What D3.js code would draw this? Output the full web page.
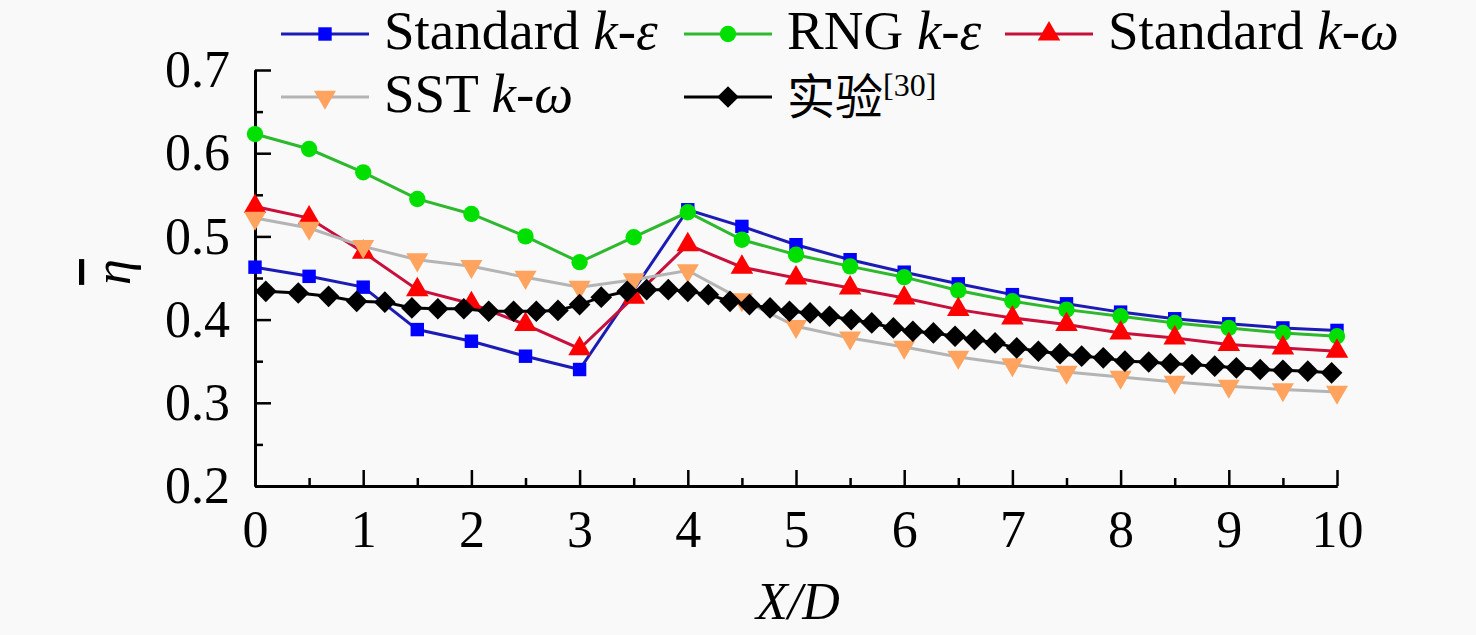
<!DOCTYPE html>
<html>
<head>
<meta charset="utf-8">
<script src="https://cdn.jsdelivr.net/npm/d3@7"></script>
<style>
  body { margin: 0; background: #f9f9f9; }
  svg { display: block; }
  text { font-family: "Liberation Serif", "Times New Roman", serif; fill: #000; }
</style>
</head>
<body>
<div id="chart"></div>
<script>
// x positions of the simulated points (X/D)
const xSim = [0, 0.5, 1, 1.5, 2, 2.5, 3, 3.5, 4, 4.5, 5, 5.5, 6, 6.5, 7, 7.5, 8, 8.5, 9, 9.5, 10];

// simulated film cooling effectiveness (null = no point)
const stdKe = [0.463, 0.452, 0.439, 0.388, 0.374, 0.356, 0.340, null, 0.532, 0.512, 0.490, 0.472, 0.457, 0.443, 0.430, 0.419, 0.409, 0.401, 0.395, 0.390, 0.387];
const rngKe = [0.623, 0.605, 0.577, 0.545, 0.527, 0.500, 0.469, 0.499, 0.529, 0.496, 0.478, 0.464, 0.451, 0.435, 0.422, 0.412, 0.404, 0.396, 0.390, 0.384, 0.380];
const stdKw = [0.536, 0.522, 0.481, 0.436, 0.419, 0.394, 0.365, 0.427, 0.490, 0.463, 0.450, 0.438, 0.426, 0.412, 0.402, 0.394, 0.384, 0.378, 0.370, 0.366, 0.362];
const sstKw = [0.522, 0.510, 0.488, 0.472, 0.464, 0.451, 0.439, 0.448, 0.459, 0.424, 0.392, 0.378, 0.367, 0.355, 0.346, 0.337, 0.331, 0.325, 0.320, 0.316, 0.313];

// experiment [30]
const expX = [0.10, 0.40, 0.68, 0.94, 1.20, 1.45, 1.69, 1.93, 2.16, 2.39, 2.60, 2.80, 3.00, 3.20, 3.44, 3.62,
  3.82, 4.00, 4.19, 4.39, 4.57, 4.76, 4.94, 5.13, 5.31, 5.51, 5.70, 5.90, 6.08, 6.27, 6.47, 6.65,
  6.84, 7.04, 7.24, 7.44, 7.64, 7.84, 8.04, 8.26, 8.46, 8.66, 8.87, 9.07, 9.29, 9.50, 9.73, 9.95];
const expY = [0.434, 0.432, 0.428, 0.422, 0.421, 0.414, 0.413, 0.413, 0.410, 0.410, 0.410, 0.411, 0.418, 0.427, 0.434, 0.436,
  0.436, 0.434, 0.430, 0.422, 0.418, 0.414, 0.410, 0.408, 0.404, 0.400, 0.396, 0.390, 0.386, 0.384, 0.380, 0.376,
  0.372, 0.366, 0.362, 0.359, 0.356, 0.354, 0.350, 0.349, 0.347, 0.346, 0.344, 0.342, 0.340, 0.339, 0.338, 0.336];

const xTicks = [0, 1, 2, 3, 4, 5, 6, 7, 8, 9, 10];
const yTicks = [0.2, 0.3, 0.4, 0.5, 0.6, 0.7];

const width = 1476, height = 635;
const margin = { top: 70, right: 139, bottom: 149, left: 255 };
const innerW = width - margin.left - margin.right;
const innerH = height - margin.top - margin.bottom;

const svg = d3.select('#chart').append('svg')
  .attr('width', width)
  .attr('height', height);

const g = svg.append('g')
  .attr('transform', `translate(${margin.left},${margin.top})`);

const x = d3.scaleLinear().domain([0, 10]).range([0, innerW]);
const y = d3.scaleLinear().domain([0.2, 0.7]).range([innerH, 0]);

// minor ticks
g.append('g')
  .attr('class', 'x-minor')
  .attr('transform', `translate(0,${innerH})`)
  .call(d3.axisBottom(x).tickValues(d3.range(0.5, 10, 1)).tickSize(-8).tickSizeOuter(0).tickFormat(''));
g.append('g')
  .attr('class', 'y-minor')
  .call(d3.axisLeft(y).tickValues([0.25, 0.35, 0.45, 0.55, 0.65]).tickSize(-8).tickSizeOuter(0).tickFormat(''));

// major axes
g.append('g')
  .attr('class', 'x-axis')
  .attr('transform', `translate(0,${innerH})`)
  .call(d3.axisBottom(x).tickValues(xTicks).tickSize(-16).tickSizeOuter(0).tickPadding(24).tickFormat(d3.format('d')));
g.append('g')
  .attr('class', 'y-axis')
  .call(d3.axisLeft(y).tickValues(yTicks).tickSize(-16).tickSizeOuter(0).tickPadding(25).tickFormat(d3.format('.1f')));

g.selectAll('.domain').attr('stroke', '#000').attr('stroke-width', 3);
g.selectAll('.tick line').attr('stroke', '#000').attr('stroke-width', 2.5);
g.selectAll('.tick text').style('font-size', '52px').style('font-family', '"Liberation Serif", serif');

// axis titles
svg.append('text')
  .attr('x', 798)
  .attr('y', 619)
  .attr('text-anchor', 'middle')
  .style('font-size', '52px')
  .style('font-style', 'italic')
  .text('X/D');

svg.append('text')
  .attr('transform', 'translate(130,272) rotate(-90)')
  .attr('text-anchor', 'middle')
  .style('font-size', '52px')
  .style('font-style', 'italic')
  .style('text-decoration', 'overline')
  .text('η');

// series
const series = [
  { name: 'stdKe', values: stdKe, xs: xSim, line: '#1c1cb4', fill: '#0000ff', shape: 'square', size: 180 },
  { name: 'rngKe', values: rngKe, xs: xSim, line: '#2eb82e', fill: '#00e000', shape: 'circle', size: 210 },
  { name: 'stdKw', values: stdKw, xs: xSim, line: '#c8103c', fill: '#ff0000', shape: 'triangle', size: 220 },
  { name: 'sstKw', values: sstKw, xs: xSim, line: '#b4b4b4', fill: '#ffa35e', shape: 'triangleDown', size: 210 },
  { name: 'exp', values: expY, xs: expX, line: '#000000', fill: '#000000', shape: 'diamond', size: 235 }
];

const shapeType = {
  square: d3.symbolSquare,
  circle: d3.symbolCircle,
  triangle: d3.symbolTriangle,
  triangleDown: d3.symbolTriangle,
  diamond: d3.symbolSquare
};
const shapeRotate = { square: 0, circle: 0, triangle: 0, triangleDown: 180, diamond: 45 };

const line = d3.line().x(d => x(d.x)).y(d => y(d.y));

series.forEach(s => {
  const pts = s.values.map((v, i) => ({ x: s.xs[i], y: v })).filter(d => d.y !== null);
  const sg = g.append('g').attr('class', 'series-' + s.name);
  sg.append('path')
    .datum(pts)
    .attr('fill', 'none')
    .attr('stroke', s.line)
    .attr('stroke-width', 3)
    .attr('d', line);
  sg.selectAll('path.marker')
    .data(pts)
    .join('path')
    .attr('class', 'marker')
    .attr('transform', d => `translate(${x(d.x)},${y(d.y)}) rotate(${shapeRotate[s.shape]})`)
    .attr('d', d3.symbol().type(shapeType[s.shape]).size(s.size))
    .attr('fill', s.fill);
});

// legend
const legendItems = [
  { s: series[0], x0: 281, y0: 34, label: ['Standard ', 'k', '-ε'] },
  { s: series[1], x0: 684, y0: 34, label: ['RNG ', 'k', '-ε'] },
  { s: series[2], x0: 1005, y0: 34, label: ['Standard ', 'k', '-ω'] },
  { s: series[3], x0: 281, y0: 97, label: ['SST ', 'k', '-ω'] },
  { s: series[4], x0: 684, y0: 97, label: null }
];

legendItems.forEach(item => {
  const lg = svg.append('g').attr('transform', `translate(${item.x0},${item.y0})`);
  lg.append('line')
    .attr('x1', 0).attr('x2', 88)
    .attr('stroke', item.s.line)
    .attr('stroke-width', 3);
  lg.append('path')
    .attr('transform', `translate(44,0) rotate(${shapeRotate[item.s.shape]})`)
    .attr('d', d3.symbol().type(shapeType[item.s.shape]).size(item.s.size))
    .attr('fill', item.s.fill);
  const t = lg.append('text')
    .attr('x', 103)
    .attr('y', 15)
    .style('font-size', '55px');
  if (item.label) {
    t.append('tspan').text(item.label[0]);
    t.append('tspan').style('font-style', 'italic').text(item.label[1]);
    t.append('tspan').style('font-style', 'italic').text(item.label[2]);
  } else {
    t.attr('y', 17);
    t.append('tspan').style('font-family', '"Noto Sans CJK SC", sans-serif').style('font-size', '48px').text('实验');
    t.append('tspan').attr('dy', -18).style('font-size', '32px').text('[30]');
  }
});
</script>
</body>
</html>
